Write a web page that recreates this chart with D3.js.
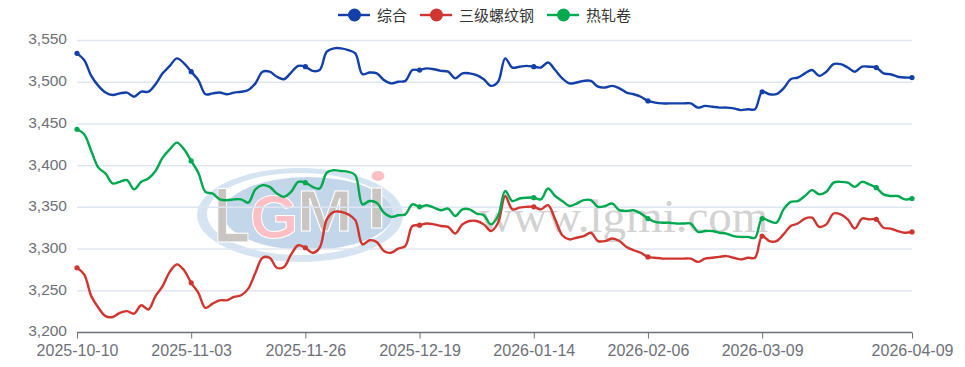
<!DOCTYPE html>
<html>
<head>
<meta charset="utf-8">
<script src="https://d3js.org/d3.v7.min.js"></script>
<style>
html,body{margin:0;padding:0;background:#fff;}
svg{display:block;}
</style>
</head>
<body>
<svg width="965" height="367"></svg>
<script>
var names = ["综合","三级螺纹钢","热轧卷"];
var colors = ["#1340a8","#d0352f","#00a84f"];
var yTicks = [3200,3250,3300,3350,3400,3450,3500,3550];
var tickIdx = [0,16,32,48,64,80,96,117];
var tickDates = ["2025-10-10","2025-11-03","2025-11-26","2025-12-19","2026-01-14","2026-02-06","2026-03-09","2026-04-09"];
var symbolIdx = [0,16,32,48,64,80,96,112,117];

var composite = [3534,3526,3507,3495,3487,3484,3486,3487,3482,3488,
    3488,3497,3510,3519,3528,3522,3512,3502,3485,3486,
    3487,3485,3487,3488,3490,3498,3512,3512,3506,3503,
    3511,3519,3518,3513,3514,3536,3540,3540,3538,3534,
    3509,3511,3510,3502,3498,3500,3501,3514,3514,3516,
    3515,3513,3512,3504,3510,3510,3508,3503,3495,3500,
    3528,3517,3518,3519,3518,3517,3523,3514,3504,3498,
    3499,3501,3501,3494,3493,3495,3492,3487,3485,3482,
    3477,3475,3474,3474,3474,3474,3474,3469,3471,3470,
    3469,3469,3468,3466,3467,3467,3488,3485,3485,3492,
    3503,3505,3510,3514,3507,3512,3521,3521,3517,3512,
    3518,3518,3517,3510,3509,3506,3505,3505];
var rebar = [3277,3269,3243,3229,3219,3218,3223,3225,3222,3232,
    3227,3243,3255,3272,3281,3274,3259,3247,3229,3234,
    3238,3238,3242,3244,3252,3271,3289,3289,3277,3278,
    3293,3304,3301,3295,3301,3335,3344,3344,3341,3334,
    3305,3310,3308,3297,3295,3300,3303,3327,3328,3330,
    3329,3327,3326,3318,3329,3333,3333,3329,3321,3331,
    3363,3347,3349,3350,3350,3347,3352,3335,3316,3311,
    3313,3315,3319,3309,3309,3312,3309,3302,3298,3295,
    3290,3289,3288,3288,3288,3288,3288,3284,3288,3289,
    3290,3291,3289,3287,3289,3289,3315,3309,3309,3317,
    3327,3330,3336,3337,3326,3329,3342,3341,3335,3324,
    3336,3335,3335,3325,3324,3321,3319,3320];
var hotCoil = [3443,3437,3417,3397,3390,3378,3380,3382,3371,3380,
    3384,3393,3409,3419,3427,3419,3405,3391,3368,3366,
    3359,3358,3359,3359,3355,3371,3376,3374,3366,3362,
    3368,3380,3379,3374,3372,3391,3394,3393,3392,3388,
    3353,3357,3355,3343,3338,3340,3341,3353,3350,3352,
    3349,3346,3348,3339,3347,3347,3342,3340,3329,3339,
    3369,3357,3360,3361,3361,3359,3372,3363,3357,3351,
    3354,3358,3358,3350,3351,3354,3346,3345,3346,3342,
    3336,3332,3331,3331,3330,3330,3330,3320,3321,3321,
    3319,3318,3315,3314,3314,3313,3336,3333,3331,3347,
    3356,3357,3363,3370,3365,3368,3379,3380,3379,3374,
    3380,3377,3373,3365,3363,3363,3359,3360];
var seriesList = [composite,rebar,hotCoil];

var svg = d3.select("svg");
var font = "'Liberation Sans',Arial,sans-serif";
var plotLeft = 77, plotRight = 912, plotTop = 40, plotBottom = 332;

var xScale = d3.scaleLinear().domain([0,composite.length-1]).range([plotLeft,plotRight]);
var yScale = d3.scaleLinear().domain([3200,3550]).range([plotBottom,plotTop]);

// watermark, sits under the grid
var wm = svg.append("g");
wm.append("ellipse").attr("cx",300).attr("cy",215).attr("rx",103).attr("ry",47).attr("fill","#d6e4f2");
wm.append("ellipse").attr("cx",300).attr("cy",214).attr("rx",93).attr("ry",41).attr("fill","#fff");
wm.append("ellipse").attr("cx",308).attr("cy",213.5).attr("rx",85).attr("ry",36.5).attr("fill","#c3d6ea");
function logoLetter(t,x,y,size,sx,fill){
    wm.append("text").attr("transform","translate("+x+","+y+") scale("+sx+",1)")
        .attr("font-size",size).attr("font-weight","bold").attr("font-family",font)
        .attr("fill",fill).attr("stroke","#fff").text(t);
}
logoLetter("L",214,242,78,0.75,"#c8c5c3");
logoLetter("G",250,238,62,1,"#fbbfc5");
logoLetter("M",297,231,58,1.15,"#c8c5c3");
logoLetter("I",367,228,58,1.2,"#c8c5c3");
wm.append("ellipse").attr("cx",378).attr("cy",176).attr("rx",6.5).attr("ry",5).attr("fill","#fbbfc5");
wm.append("text").attr("x",479).attr("y",232).attr("font-size",47)
    .attr("font-family","'Liberation Serif',serif").attr("fill","#d2d2d2").text("www.lgmi.com");

// y axis with grid
var yAxis = svg.append("g").attr("transform","translate("+plotLeft+",0)")
    .call(d3.axisLeft(yScale).tickValues(yTicks).tickSize(-(plotRight-plotLeft)).tickPadding(10).tickFormat(d3.format(",")));
yAxis.select(".domain").remove();
yAxis.selectAll("line").attr("stroke","#e0e6f1").attr("stroke-width",1.5);
yAxis.selectAll("line").filter(function(d){return d==3200;}).remove();
yAxis.selectAll("text").attr("fill","#6e7079").attr("font-size",15.5).attr("font-family",font).attr("dy","0.25em");

// x axis
var xAxis = svg.append("g").attr("transform","translate(0,"+(plotBottom+0.5)+")")
    .call(d3.axisBottom(xScale).tickValues(tickIdx).tickSize(6).tickPadding(6)
        .tickFormat(function(d){return tickDates[tickIdx.indexOf(d)];}));
xAxis.select(".domain").attr("stroke","#6e7079").attr("stroke-width",1.5).attr("d","M"+plotLeft+",0H"+plotRight);
xAxis.selectAll("line").attr("stroke","#6e7079").attr("stroke-width",1);
xAxis.selectAll("text").attr("fill","#6e7079").attr("font-size",16).attr("font-family",font);

var line = d3.line()
    .x(function(d,i){return xScale(i);})
    .y(function(d){return yScale(d);})
    .curve(d3.curveCatmullRom.alpha(0.5));

seriesList.forEach(function(vals,k){
    svg.append("path").datum(vals).attr("d",line)
        .attr("fill","none").attr("stroke",colors[k]).attr("stroke-width",2.4);
    svg.selectAll(".dot"+k).data(symbolIdx).enter().append("circle")
        .attr("class","dot"+k)
        .attr("cx",function(i){return xScale(i);})
        .attr("cy",function(i){return yScale(vals[i]);})
        .attr("r",2.6)
        .attr("fill",colors[k]);
});

// legend
var legendX = [338,420,547];
names.forEach(function(n,k){
    var g = svg.append("g").attr("transform","translate("+legendX[k]+",15)");
    g.append("line").attr("x1",0).attr("x2",32).attr("stroke",colors[k]).attr("stroke-width",2.4);
    g.append("circle").attr("cx",16.5).attr("r",6.5).attr("fill",colors[k]);
    g.append("text").attr("x",39).attr("y",5.5).attr("font-size",15)
        .attr("font-family","'Noto Sans CJK SC',sans-serif").attr("fill","#333").text(n);
});
</script>
</body>
</html>
